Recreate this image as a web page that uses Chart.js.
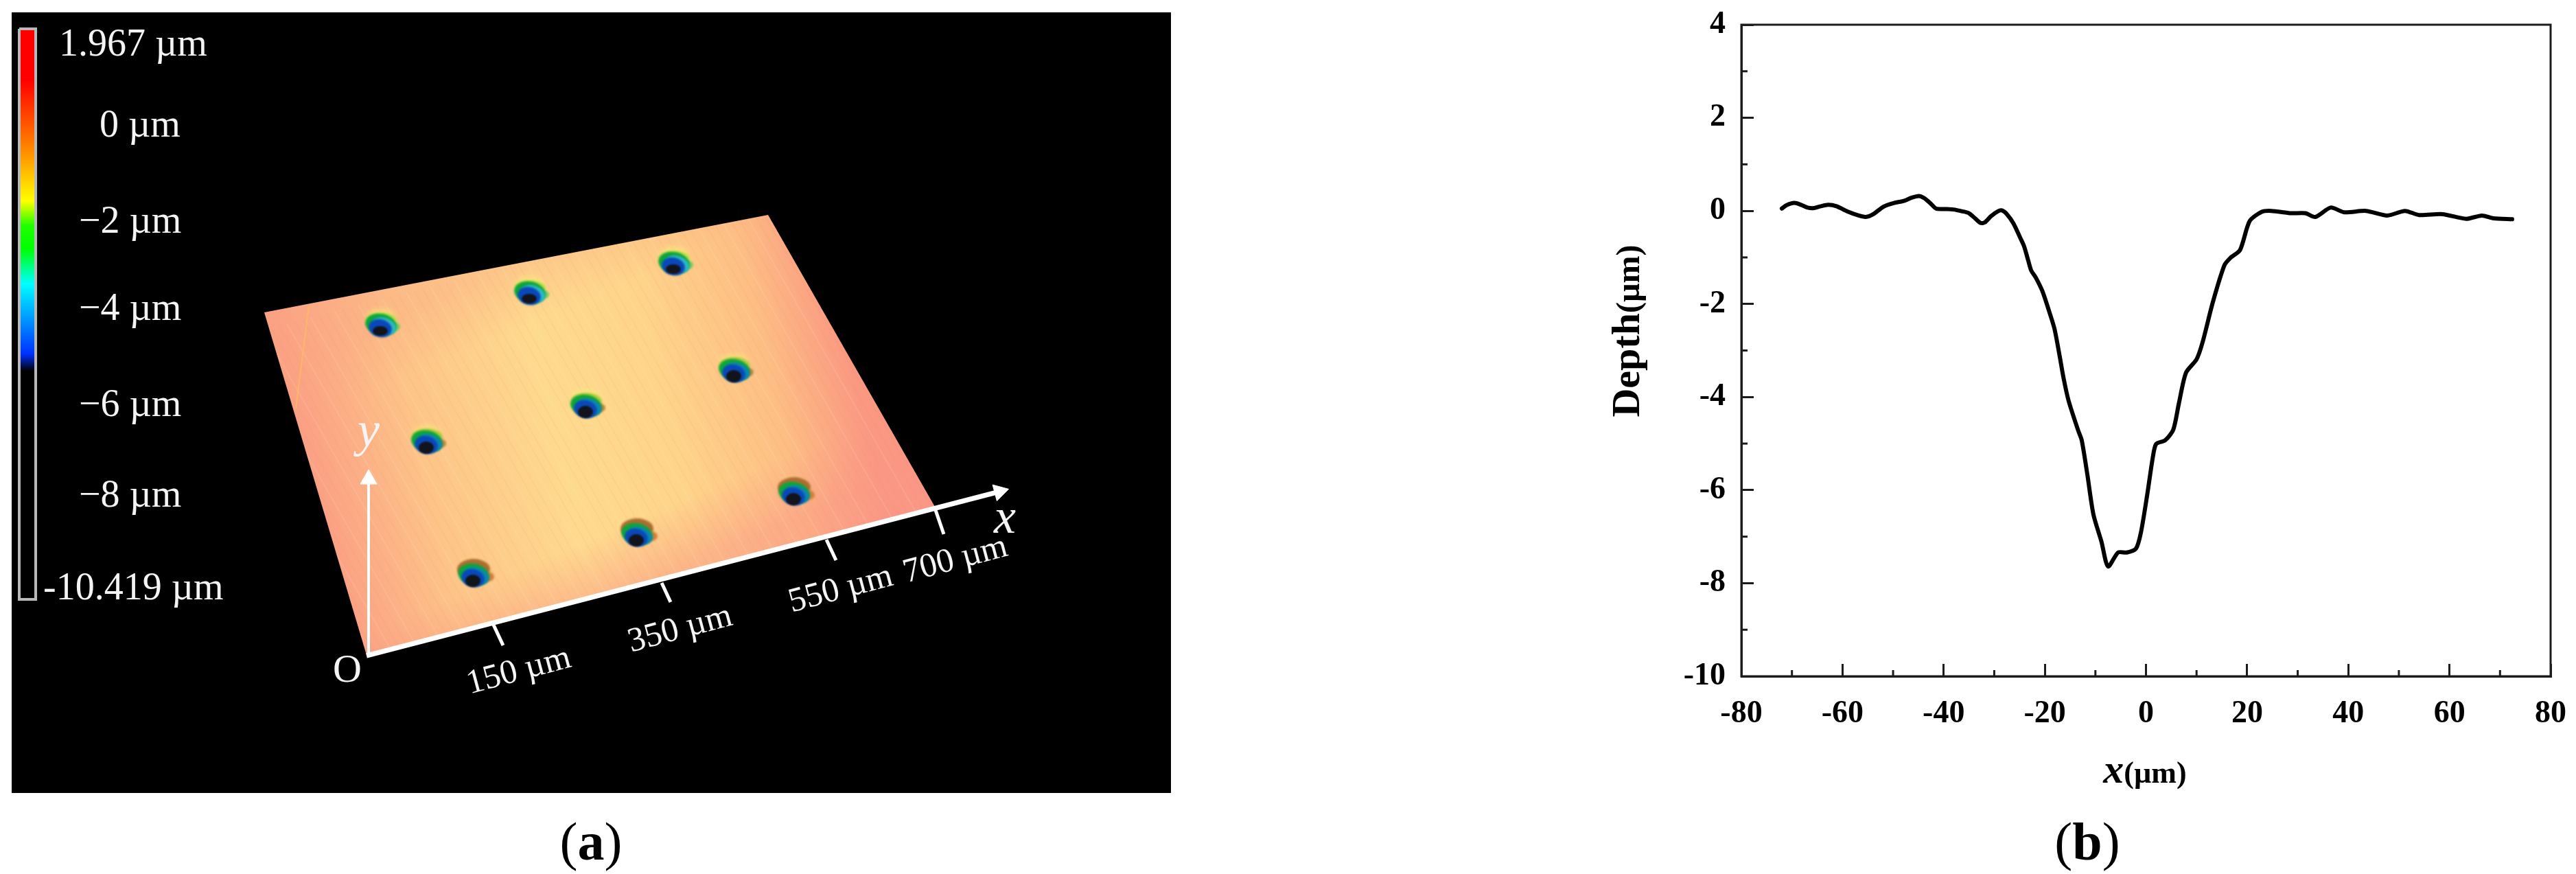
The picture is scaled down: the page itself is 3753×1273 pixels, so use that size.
<!DOCTYPE html>
<html>
<head>
<meta charset="utf-8">
<script src="https://cdn.jsdelivr.net/npm/chart.js@4/dist/chart.umd.min.js"></script>
<style>
html,body{margin:0;padding:0;background:#fff;width:3753px;height:1273px;overflow:hidden}
canvas{position:absolute;display:block}
.cap{position:absolute;font-family:"Liberation Serif",serif;font-size:78px;line-height:1;color:#000;transform:translate(-50%,-50%);white-space:nowrap}
.cap b{font-weight:700}
</style>
</head>
<body>
<canvas id="panelA" width="1689" height="1137" style="left:17px;top:18px"></canvas>
<canvas id="panelB" width="1453" height="1170" style="left:2300px;top:0"></canvas>
<div class="cap" style="left:861px;top:1226px">(<b>a</b>)</div>
<div class="cap" style="left:3041px;top:1226px">(<b>b</b>)</div>
<script>
// ---- Panel (b): depth profile ----
const profileX = [-72,-71.1,-69.5,-68.2,-66.9,-65.6,-64.3,-62.8,-61.2,-59.1,-57.1,-55.4,-53.9,-51.9,-49.8,-48,-46.4,-44.9,-43.8,-42.5,-41.5,-39.9,-38.1,-36.3,-35,-33.7,-32.7,-31.9,-30.6,-29.3,-28.5,-27.5,-26.2,-24.9,-24.1,-23.3,-22.7,-21.8,-20.5,-19.2,-18.1,-17.1,-16.3,-15.3,-13.4,-12.7,-11.6,-10.4,-8.8,-7.5,-5.5,-3.8,-2,-1,0.3,1.3,2,3.8,5.4,6.5,7.9,10,11.2,13.2,15.5,16.7,18.6,20.5,22.9,24.8,28.7,31.5,33.5,36.5,39.2,43.5,47.7,51.2,54,58.6,63.3,66.4,68.7,72.4];
const profileDepth = [0.05,0.12,0.17,0.13,0.07,0.06,0.1,0.13,0.1,-0.01,-0.09,-0.13,-0.07,0.09,0.17,0.21,0.28,0.32,0.27,0.15,0.05,0.04,0.03,-0.01,-0.05,-0.17,-0.26,-0.25,-0.11,-0.01,0.01,-0.07,-0.27,-0.57,-0.76,-1.06,-1.28,-1.43,-1.72,-2.14,-2.53,-3.1,-3.59,-4.08,-4.72,-4.93,-5.66,-6.52,-7.11,-7.64,-7.34,-7.34,-7.26,-6.91,-6.06,-5.33,-5.01,-4.93,-4.7,-4.14,-3.48,-3.19,-2.82,-1.97,-1.17,-1.01,-0.84,-0.22,-0.02,0,-0.05,-0.05,-0.13,0.07,-0.03,0,-0.1,0,-0.09,-0.07,-0.17,-0.1,-0.16,-0.18];
const xMinorTicks = [-70,-50,-30,-10,10,30,50,70];
const yMinorTicks = [3,1,-1,-3,-5,-7,-9];

// ---- Panel (a): surface map, values in image coordinates ----
const surfaceX = [534,385,1119,1362,534];
const surfaceY = [954,455,313,738,954];
const pitsTopX = [558,775,985];
const pitsTopY = [471,424,381];
const pitsMidX = [1073,857,625];
const pitsMidY = [537,589,641];
const pitsLowX = [1160,931,693];
const pitsLowY = [716,776,835];
const scratchX = [450,431];
const scratchY = [445,595];
const xAxisX = [534,1460];
const xAxisY = [955,715];
const yAxisX = [537,537];
const yAxisY = [955,695];
const arrowTipX = [1456,537];
const arrowTipY = [716,698];
const tickBaseX = [718,964,1204,1363];
const tickBaseY = [908,849,786,743];
const tickEndX = [733,977,1218,1375];
const tickEndY = [940,877,816,778];
const barX = [28,52,52,28,28];
const barY = [42,42,873,873,42];
const barLabels = ['1.967 µm','0 µm','−2 µm','−4 µm','−6 µm','−8 µm','-10.419 µm'];
const axisLabels = ['150 µm','350 µm','550 µm','700 µm'];

const pts = (xs, ys) => xs.map((x, i) => ({x, y: ys[i]}));

function pitSprite(kind) {
  const c = document.createElement('canvas');
  c.width = 90; c.height = 70;
  const g = c.getContext('2d');
  const e = (x, y, rx, ry, col, rot = 0) => { g.fillStyle = col; g.beginPath(); g.ellipse(x, y, rx, ry, rot, 0, Math.PI * 2); g.fill(); };
  g.filter = 'blur(4px)';
  e(42, 23, 20, 9, kind === 'low' ? 'rgba(250,235,130,0.25)' : 'rgba(250,245,120,0.55)');
  g.filter = 'blur(1.5px)';
  if (kind === 'low') {
    e(42, 29, 24, 15, 'rgb(172,110,48)');
    e(63, 40, 9, 7, 'rgb(205,130,60)');
  } else if (kind === 'mid') {
    e(42, 31, 23, 13, 'rgb(175,205,60)');
    e(63, 40, 7, 6, 'rgb(185,135,60)');
  } else {
    e(42, 31, 23, 12, 'rgb(185,225,70)');
    e(63, 40, 7, 6, 'rgb(120,205,90)');
  }
  e(42, 37, 23, 16, 'rgb(12,165,62)', 0.2);
  e(47, 39, 18, 12, kind === 'top' ? 'rgb(45,185,195)' : 'rgb(12,135,175)', 0.35);
  e(41, 42, 17, 13, 'rgb(10,72,185)', 0.25);
  g.filter = 'blur(1px)';
  e(41, 46, 11, kind === 'top' ? 7 : 9, 'rgb(18,20,28)');
  return c;
}

const scaleReady = chart => chart.chartArea && chart.scales.x && chart.scales.y && Number.isFinite(chart.scales.y.getPixelForValue(barY[0]));

function surfacePattern(chart) {
  if (!scaleReady(chart)) return 'rgb(252,190,130)';
  if (chart.$surface) return chart.$surface;
  const sx = chart.scales.x, sy = chart.scales.y;
  const P = i => [sx.getPixelForValue(surfaceX[i]), sy.getPixelForValue(surfaceY[i])];
  const [O, TL, TR, BR] = [P(0), P(1), P(2), P(3)];
  const c = document.createElement('canvas');
  c.width = chart.width; c.height = chart.height;
  const g = c.getContext('2d');
  const a = [(O[0]+TL[0])/2, (O[1]+TL[1])/2], b = [(BR[0]+TR[0])/2, (BR[1]+TR[1])/2];
  let lin = g.createLinearGradient(a[0], a[1], b[0], b[1]);
  lin.addColorStop(0, 'rgb(251,160,132)');
  lin.addColorStop(.2, 'rgb(253,196,136)');
  lin.addColorStop(.45, 'rgb(254,218,142)');
  lin.addColorStop(.65, 'rgb(254,212,138)');
  lin.addColorStop(.85, 'rgb(253,190,132)');
  lin.addColorStop(1, 'rgb(250,152,130)');
  g.fillStyle = lin; g.fillRect(0, 0, c.width, c.height);
  const m = [(O[0]+BR[0])/2, (O[1]+BR[1])/2], n = [(TL[0]+TR[0])/2, (TL[1]+TR[1])/2];
  lin = g.createLinearGradient(m[0], m[1], n[0], n[1]);
  lin.addColorStop(0, 'rgba(250,150,135,.5)');
  lin.addColorStop(.18, 'rgba(250,150,135,0)');
  lin.addColorStop(.82, 'rgba(250,165,130,0)');
  lin.addColorStop(1, 'rgba(250,165,130,.35)');
  g.fillStyle = lin; g.fillRect(0, 0, c.width, c.height);
  // faint machining streaks running along the surface's y direction
  const dx = (TR[0]-BR[0]), dy = (TR[1]-BR[1]);
  g.lineWidth = 2;
  for (let i = 0, t = 0; t < 1; i++, t += 0.014) {
    const x0 = O[0] + (BR[0]-O[0])*t, y0 = O[1] + (BR[1]-O[1])*t;
    g.strokeStyle = i % 3 === 0 ? 'rgba(255,240,200,.13)' : 'rgba(235,130,90,.07)';
    g.beginPath(); g.moveTo(x0, y0); g.lineTo(x0 + dx*1.05, y0 + dy*1.05); g.stroke();
  }
  chart.$surface = g.createPattern(c, 'no-repeat');
  return chart.$surface;
}

function barGradient(chart) {
  if (!scaleReady(chart)) return '#000';
  const sy = chart.scales.y;
  const g = chart.ctx.createLinearGradient(0, sy.getPixelForValue(barY[0]), 0, sy.getPixelForValue(barY[2]));
  [[0,'#ff0000'],[.09,'#ff0000'],[.2,'#ff7a00'],[.302,'#ffff00'],[.345,'#20ff00'],[.385,'#00ff00'],[.447,'#00ffff'],[.57,'#0030ff'],[.6,'#000000'],[1,'#000000']]
    .forEach(([s, col]) => g.addColorStop(s, col));
  return g;
}

const panelTexts = {
  id: 'panelTexts',
  afterDatasetsDraw(chart) {
    const {ctx, scales: {x, y}} = chart;
    const put = (t, px, py, font, rot = 0, align = 'left') => {
      ctx.save();
      ctx.translate(x.getPixelForValue(px), y.getPixelForValue(py));
      ctx.rotate(rot * Math.PI / 180);
      ctx.font = font; ctx.fillStyle = '#f4f4f4';
      ctx.textAlign = align; ctx.textBaseline = 'middle';
      ctx.fillText(t, 0, 0);
      ctx.restore();
    };
    const barFont = '56px "Liberation Serif"';
    const barPos = [[86,66],[145,184],[115,324],[115,451],[115,591],[115,723],[63,858]];
    barLabels.forEach((t, i) => put(t, barPos[i][0], barPos[i][1], barFont));
    const axisPos = [[756,978],[991,917],[1225,859],[1392,816]];
    axisLabels.forEach((t, i) => put(t, axisPos[i][0], axisPos[i][1], '50px "Liberation Serif"', -15, 'center'));
    put('O', 506, 978, '58px "Liberation Serif"', 0, 'center');
    put('y', 537, 631, 'italic 72px "Liberation Serif"', 0, 'center');
    put('x', 1464, 757, 'italic 72px "Liberation Serif"', 0, 'center');
  }
};

const chartA = new Chart(document.getElementById('panelA'), {
  type: 'scatter',
  plugins: [panelTexts, {
    id: 'blackBg',
    beforeDraw(c) { c.ctx.save(); c.ctx.fillStyle = '#000'; c.ctx.fillRect(0, 0, c.width, c.height); c.ctx.restore(); }
  }],
  data: {
    datasets: [
      {label:'x axis arrow', data: pts([arrowTipX[0]],[arrowTipY[0]]), pointStyle:'triangle', rotation:75, pointRadius:14, backgroundColor:'#fff', borderColor:'#fff'},
      {label:'y axis arrow', data: pts([arrowTipX[1]],[arrowTipY[1]]), pointStyle:'triangle', rotation:0, pointRadius:14, backgroundColor:'#fff', borderColor:'#fff'},
      {label:'x axis', data: pts(xAxisX,xAxisY), showLine:true, borderColor:'#fff', borderWidth:7, pointRadius:0},
      {label:'y axis', data: pts(yAxisX,yAxisY), showLine:true, borderColor:'#fff', borderWidth:4, pointRadius:0},
      ...tickBaseX.map((b,i)=>({label:'x tick '+i, data: pts([b,tickEndX[i]],[tickBaseY[i],tickEndY[i]]), showLine:true, borderColor:'#fff', borderWidth:5, pointRadius:0})),
      {label:'pits top', data: pts(pitsTopX,pitsTopY), pointStyle:pitSprite('top'), pointRadius:10},
      {label:'pits mid', data: pts(pitsMidX,pitsMidY), pointStyle:pitSprite('mid'), pointRadius:10},
      {label:'pits low', data: pts(pitsLowX,pitsLowY), pointStyle:pitSprite('low'), pointRadius:10},
      {label:'scratch', data: pts(scratchX,scratchY), showLine:true, borderColor:'rgba(255,190,90,.7)', borderWidth:2, pointRadius:0},
      {label:'surface', data: pts(surfaceX,surfaceY), showLine:true, fill:'shape', borderWidth:0, borderColor:'rgba(0,0,0,0)', pointRadius:0,
        backgroundColor: c => surfacePattern(c.chart)},
      {label:'colour bar', data: pts(barX,barY), showLine:true, fill:'shape', borderColor:'#b9b9b9', borderWidth:4, pointRadius:0,
        backgroundColor: c => barGradient(c.chart)}
    ]
  },
  options: {
    responsive:false, animation:false, devicePixelRatio:1,
    layout:{padding:0, autoPadding:false},
    plugins:{legend:{display:false}, tooltip:{enabled:false}},
    scales:{
      x:{type:'linear', min:17, max:1706, display:false},
      y:{type:'linear', min:18, max:1155, reverse:true, display:false}
    }
  }
});
chartA.update();

const inkColor = '#1c1c1c';
const noScaleMargin = s => { s.paddingTop = 0; s.paddingBottom = 0; s.paddingLeft = 0; s.paddingRight = 0; };
const frameAndTitles = {
  id: 'frameAndTitles',
  afterDraw(chart) {
    const {ctx, chartArea: a, scales: {x, y}} = chart;
    ctx.save();
    ctx.strokeStyle = inkColor; ctx.lineWidth = 3;
    ctx.strokeRect(a.left, a.top, a.right - a.left, a.bottom - a.top);
    ctx.lineWidth = 3;
    xMinorTicks.forEach(v => { const p = x.getPixelForValue(v); ctx.beginPath(); ctx.moveTo(p, a.bottom); ctx.lineTo(p, a.bottom - 9); ctx.stroke(); });
    yMinorTicks.forEach(v => { const p = y.getPixelForValue(v); ctx.beginPath(); ctx.moveTo(a.left, p); ctx.lineTo(a.left + 9, p); ctx.stroke(); });
    ctx.fillStyle = '#000';
    ctx.textBaseline = 'alphabetic';
    const runs = (parts, cx, cy, rot) => {
      ctx.save(); ctx.translate(cx, cy); ctx.rotate(rot);
      let w = 0; parts.forEach(p => { ctx.font = p[1]; w += ctx.measureText(p[0]).width; });
      let at = -w / 2;
      parts.forEach(p => { ctx.font = p[1]; ctx.fillText(p[0], at, 0); at += ctx.measureText(p[0]).width; });
      ctx.restore();
    };
    runs([['Depth','bold 58px "Liberation Serif"'],['(µm)','bold 48px "Liberation Serif"']], 88, 482, -Math.PI/2);
    runs([['x','italic bold 60px "Liberation Serif"'],['(µm)','bold 44px "Liberation Serif"']], 825, 1140, 0);
    ctx.restore();
  }
};

new Chart(document.getElementById('panelB'), {
  type: 'scatter',
  plugins: [frameAndTitles],
  data: { datasets: [{ label:'Depth', data: pts(profileX, profileDepth), showLine:true, borderColor:'#000', borderWidth:6, pointRadius:0, tension:0.25, borderJoinStyle:'round', borderCapStyle:'round' }] },
  options: {
    responsive:false, animation:false, devicePixelRatio:1,
    layout:{padding:{top:36, right:37, left:0, bottom:0}, autoPadding:false},
    plugins:{legend:{display:false}, tooltip:{enabled:false}},
    scales:{
      x:{ type:'linear', min:-80, max:80,
          afterFit(s){ s.height = 185; noScaleMargin(s); },
          ticks:{stepSize:20, maxRotation:0, autoSkip:false, color:'#000', padding:46, font:{family:'Liberation Serif', size:46, weight:'bold'}},
          grid:{drawOnChartArea:false, drawTicks:true, tickLength:-18, tickWidth:3, tickColor:inkColor},
          border:{display:true, color:inkColor, width:3} },
      y:{ type:'linear', min:-10, max:4,
          afterFit(s){ s.width = 237; noScaleMargin(s); },
          ticks:{stepSize:2, autoSkip:false, color:'#000', padding:41, font:{family:'Liberation Serif', size:46, weight:'bold'}},
          grid:{drawOnChartArea:false, drawTicks:true, tickLength:-18, tickWidth:3, tickColor:inkColor},
          border:{display:true, color:inkColor, width:3} }
    }
  }
});
</script>
</body>
</html>
